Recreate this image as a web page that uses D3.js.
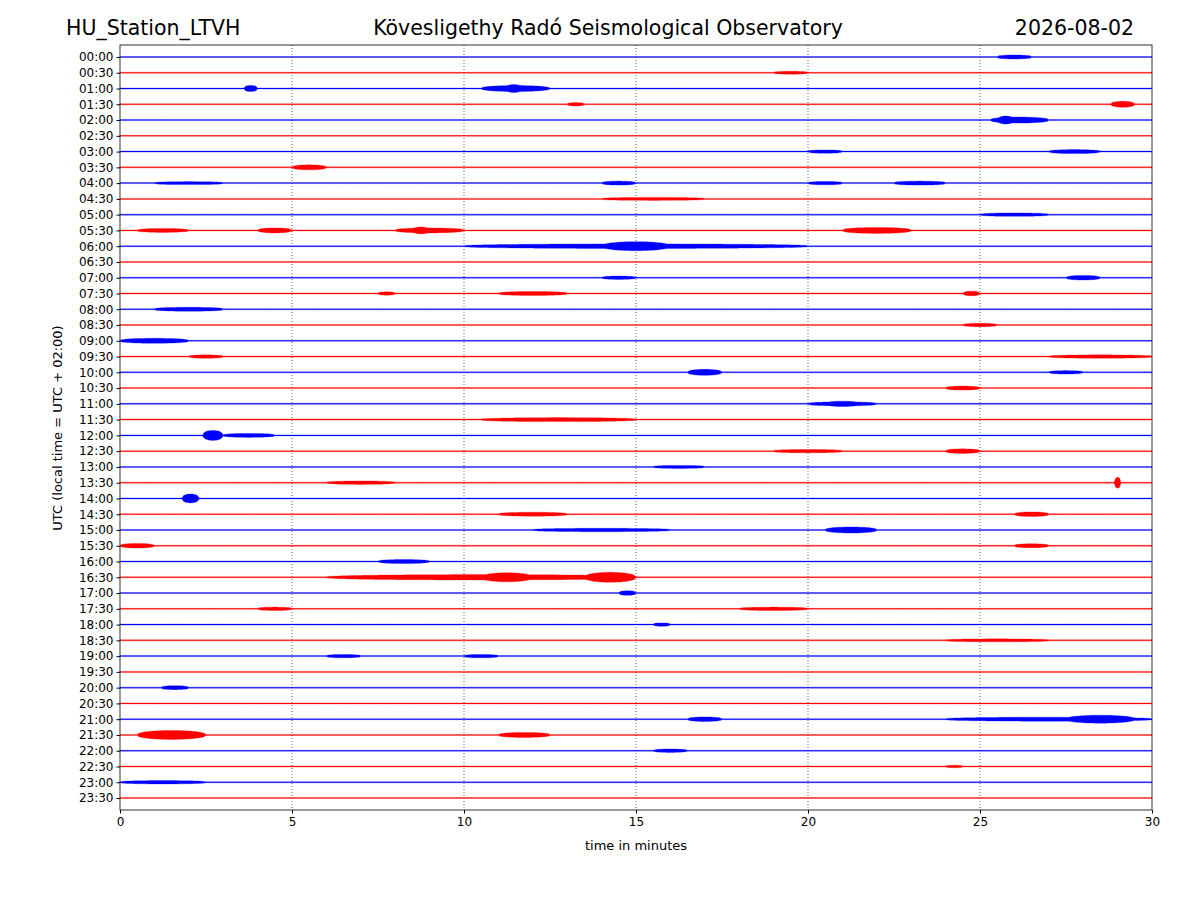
<!DOCTYPE html>
<html><head><meta charset="utf-8">
<script src="https://cdn.jsdelivr.net/npm/d3@7"></script>
<style>body{margin:0;background:#fff}text{font-family:"DejaVu Sans",sans-serif}</style>
</head><body>
<script>
// row labels (UTC)
var rowLabels = [];
for (var h = 0; h < 24; h++) {
  var hh = (h < 10 ? "0" : "") + h;
  rowLabels.push(hh + ":00", hh + ":30");
}
var xTicks = [0, 5, 10, 15, 20, 25, 30];
var rowColors = ["blue", "red"];
// envelope bursts per row: [startMin, endMin, halfAmplitudePx]
var bursts = [
  [[25.5,26.5,1.5]], [[19,20,1]], [[3.6,4,2.5],[10.5,12.5,2.5],[11.2,11.7,3.5]], [[13,13.5,1.2],[28.8,29.5,2.5]],
  [[25.3,27,2.5],[25.5,26,3.5]], [], [[20,21,1.2],[27,28.5,1.5]], [[5,6,2]],
  [[1,3,1],[14,15,1.5],[20,21,1.2],[22.5,24,1.5]], [[14,17,1]], [[25,27,1.2]], [[0.5,2,1.5],[4,5,2],[8,10,2],[8.5,9,3],[21,23,2.5]],
  [[10,20,1.8],[14,16,4]], [], [[14,15,1.2],[27.5,28.5,1.8]], [[7.5,8,1.2],[11,13,1.5],[24.5,25,1.8]],
  [[1,3,1.5]], [[24.5,25.5,1.2]], [[0,2,2]], [[2,3,1.2],[27,30,1.2]],
  [[16.5,17.5,2.5],[27,28,1.2]], [[24,25,1.5]], [[20,22,1.5],[20.5,21.5,2.2]], [[10.5,15,1.5]],
  [[2.4,3,4.5],[3,4.5,1.5]], [[19,21,1.2],[24,25,1.8]], [[15.5,17,1]], [[6,8,1.2],[28.9,29.1,5]],
  [[1.8,2.3,4]], [[11,13,1.5],[26,27,1.8]], [[12,16,1.2],[20.5,22,2.5]], [[0,1,1.8],[26,27,1.5]],
  [[7.5,9,1.5]], [[6,15,2.2],[10.5,12,4],[13.5,15,4.5]], [[14.5,15,1.8]], [[4,5,1.2],[18,20,1.2]],
  [[15.5,16,1.2]], [[24,27,1]], [[6,7,1.2],[10,11,1.2]], [],
  [[1.2,2,1.5]], [], [[16.5,17.5,1.8],[24,30,1.5],[27.5,29.5,3.5]], [[0.5,2.5,4],[11,12.5,2]],
  [[15.5,16.5,1.2]], [[24,24.5,0.8]], [[0,2.5,1.2]], []
];

var W = 1200, H = 900, L = 120, R = 1152, T = 45, B = 810;
var svg = d3.select("body").append("svg").attr("width", W).attr("height", H);

var x = d3.scaleLinear().domain([0, 30]).range([L, R]);
var y = d3.scaleLinear().domain([-0.76, 47.76]).range([T, B]);

// grid
svg.append("g").selectAll("line").data(xTicks.slice(1, -1)).join("line")
  .attr("x1", d => x(d)).attr("x2", d => x(d)).attr("y1", T).attr("y2", B)
  .attr("stroke", "#000").attr("stroke-width", 0.6).attr("stroke-dasharray", "1,2");

// traces as envelopes
var steps = d3.range(0, 30.001, 0.05);
function env(row, t) {
  var a = 0.5;
  bursts[row].forEach(function(b) {
    if (t >= b[0] && t <= b[1]) {
      var u = (t - b[0]) / (b[1] - b[0]);
      a = Math.max(a, b[2] * Math.sqrt(1 - Math.pow(2 * u - 1, 2)) + 0.5);
    }
  });
  return a;
}
rowLabels.forEach(function(lab, i) {
  var area = d3.area().x(d => x(d)).y0(d => y(i) + env(i, d)).y1(d => y(i) - env(i, d));
  svg.append("path").attr("d", area(steps)).attr("fill", rowColors[i % 2])
    .attr("stroke", rowColors[i % 2]).attr("stroke-width", 0.3);
});

// axes
var yAxis = d3.axisLeft(y).tickValues(d3.range(48)).tickFormat(i => rowLabels[i]).tickSize(3.5);
svg.append("g").attr("transform", "translate(" + L + ",0)").call(yAxis)
  .call(g => g.select(".domain").remove())
  .selectAll("text").attr("font-size", 12).attr("fill", "#000");
var xAxis = d3.axisBottom(x).tickValues(xTicks).tickSize(3.5);
svg.append("g").attr("transform", "translate(0," + B + ")").call(xAxis)
  .call(g => g.select(".domain").remove())
  .selectAll("text").attr("font-size", 12).attr("fill", "#000").attr("dy", "0.8em");
svg.append("rect").attr("x", L).attr("y", T).attr("width", R - L).attr("height", B - T)
  .attr("fill", "none").attr("stroke", "#000").attr("stroke-width", 0.8);

// labels
svg.append("text").attr("x", 636).attr("y", 850).attr("text-anchor", "middle").attr("font-size", 13).text("time in minutes");
svg.append("text").attr("transform", "translate(62,428) rotate(-90)").attr("text-anchor", "middle")
  .attr("font-size", 13).text("UTC (local time = UTC + 02:00)");
svg.append("text").attr("x", 66).attr("y", 35).attr("font-size", 20.5).text("HU_Station_LTVH");
svg.append("text").attr("x", 608).attr("y", 35).attr("text-anchor", "middle").attr("font-size", 20.5).text("Kövesligethy Radó Seismological Observatory");
svg.append("text").attr("x", 1134).attr("y", 35).attr("text-anchor", "end").attr("font-size", 20.5).text("2026-08-02");
</script>
</body></html>
